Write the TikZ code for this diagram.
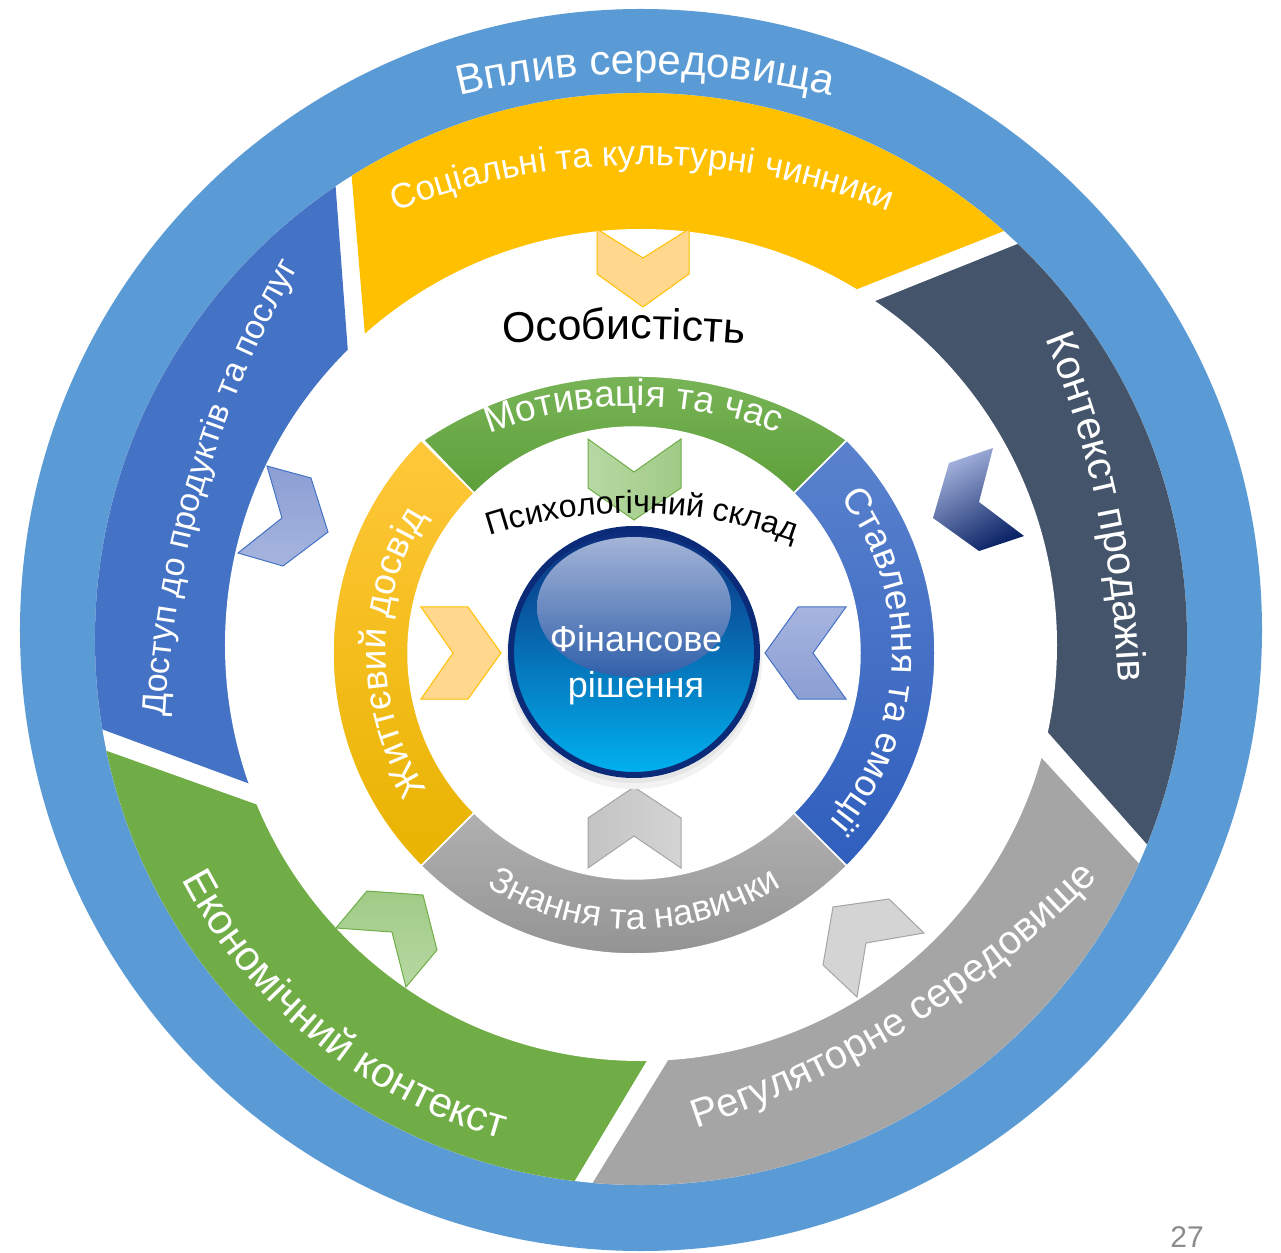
\documentclass[tikz,border=0pt]{standalone}
\usepackage{fontspec}
\setmainfont{Liberation Sans}
\usetikzlibrary{decorations.text}

\definecolor{ringblue}{HTML}{5B9BD5}
\definecolor{segyellow}{HTML}{FFC000}
\definecolor{segslate}{HTML}{44546A}
\definecolor{segblue}{HTML}{4472C4}
\definecolor{seggreen}{HTML}{70AD47}
\definecolor{seggrey}{HTML}{A5A5A5}
\definecolor{chevyellow}{HTML}{FFD88E}
\definecolor{chevgreenA}{HTML}{A0CB86}
\definecolor{chevgreenB}{HTML}{B7D8A3}
\definecolor{chevblueA}{HTML}{8C9FD4}
\definecolor{chevblueB}{HTML}{A6B4DE}
\definecolor{chevgreyA}{HTML}{C4C4C4}
\definecolor{chevgreyB}{HTML}{D4D4D4}
\definecolor{navydark}{HTML}{0B2466}
\definecolor{ringnavy}{HTML}{0B2A78}
\definecolor{coreTop}{HTML}{0D2B7A}
\definecolor{coreMid}{HTML}{0A5CAC}
\definecolor{coreBot}{HTML}{00B2F0}
\definecolor{glossTop}{HTML}{A4B4D7}
\definecolor{glossBot}{HTML}{3060AA}
\definecolor{pagegrey}{HTML}{8C8C8C}
\definecolor{igreenTop}{HTML}{7DB85C}
\definecolor{igreenBot}{HTML}{5E9F3A}
\definecolor{iyellowTop}{HTML}{FFC83A}
\definecolor{iyellowBot}{HTML}{E8B300}
\definecolor{iblueTop}{HTML}{5A82CD}
\definecolor{iblueBot}{HTML}{2F5EBD}
\definecolor{igreyTop}{HTML}{B0B0B0}
\definecolor{igreyBot}{HTML}{8E8E8E}

% #1 arc centre, #2 radius, #3 start angle, #4 end angle, #5 font size, #6 colour, #7 text
\newcommand{\CurvedText}[7]{%
  \path[decorate, decoration={text along path, text align=center, text color=#6,
      text={|\fontsize{#5}{#5}\selectfont|#7}}]
    ([shift={(#1)}]#3:#2) arc[start angle=#3, end angle=#4, radius=#2];}
\newcommand{\InnerSeg}[4]{%
  \shadedraw[top color=#3, bottom color=#4, draw=white, line width=1.5]
    ([shift={(-7,-13)}]#1:226) -- ([shift={(-7,-13)}]#1:301)
    arc[start angle=#1, end angle=#2, radius=301]
    -- ([shift={(-7,-13)}]#2:226)
    arc[start angle=#2, end angle=#1, radius=226] -- cycle;}

\begin{document}
\begin{tikzpicture}[x=1pt, y=1pt,
  chevline/.style={line width=1, line join=miter},
  centretext/.style={anchor=base, text=white, font=\fontsize{36}{36}\selectfont}]
\useasboundingbox (-641,-612) rectangle (640,640);
\fill[white] (-641,-612) rectangle (640,640);

% outer blue ring
\fill[ringblue] (0,10) circle[radius=621];
\fill[white] (0,1) circle[radius=546];

% outer segments
\begin{scope}
  \clip (0,1) circle[radius=546];
  \fill[segblue] (-329,770) -- (-287,207) -- (-323,-169) -- (-816,13) -- (-920,390) -- cycle;
  \fill[segyellow] (-315,770) -- (-269.5,227.5) -- (154.5,326.5) -- (641,519) -- (500,900) -- (0,1000) -- cycle;
  \fill[segslate] (673,515) -- (158.5,308.5) -- (350.5,-28.5) -- (725,-452) -- (1000,0) -- cycle;
  \fill[seggrey] (714,-458) -- (343,-55.5) -- (59,-368.5) -- (-193,-778) -- (300,-1000) -- cycle;
  \fill[seggreen] (-836,-3) -- (-307.5,-192) -- (36.5,-369.5) -- (-205,-772) -- (-700,-700) -- cycle;
\end{scope}
\fill[white] (0,-5) circle[radius=416];

% outer chevrons
\filldraw[fill=chevyellow, draw=segyellow, chevline] (-44,411) -- (2,382) -- (48,411) -- (48,366) -- (2,333) -- (-44,366) -- cycle;
\shadedraw[top color=chevblueA, bottom color=chevblueB, draw=segblue, chevline] (-374,174) -- (-330,162) -- (-313,108) -- (-358,74) -- (-403,87) -- (-359,122) -- cycle;
\shade[top color=chevblueB, middle color=chevblueB, bottom color=navydark, shading angle=30] (352,192) -- (308,177) -- (292,122) -- (338,89) -- (383,104) -- (338,138) -- cycle;
\shadedraw[top color=chevgreenA, bottom color=chevgreenB, draw=seggreen, chevline] (-305,-288) -- (-274,-251) -- (-218,-255) -- (-204,-310) -- (-235,-347) -- (-249,-292) -- cycle;
\filldraw[fill=chevgreyB, draw=seggrey, chevline] (192,-267) -- (248,-259) -- (283,-293) -- (225,-303) -- (216,-357) -- (182,-325) -- cycle;

% inner ring
\shadedraw[top color=igreenTop, bottom color=igreenBot, draw=white, line width=1.5]
  ([shift={(-7,-13)}]45:226) -- ([shift={(-7,-13)}]45:301)
  arc[start angle=56.24, end angle=123.76, radius=381]
  -- ([shift={(-7,-13)}]135:226) arc[start angle=135, end angle=45, radius=226] -- cycle;
\InnerSeg{135}{225}{iyellowTop}{iyellowBot}
\InnerSeg{225}{315}{igreyTop}{igreyBot}
\InnerSeg{-45}{45}{iblueTop}{iblueBot}

% inner chevrons
\shadedraw[left color=chevgreenB, right color=chevgreenA, draw=seggreen, chevline] (-53,201) -- (-7,168) -- (40,201) -- (40,152) -- (-7,120) -- (-53,152) -- cycle;
\filldraw[fill=chevyellow, draw=segyellow, chevline] (-220,33) -- (-173,33) -- (-140,-13) -- (-173,-59) -- (-220,-59) -- (-188,-13) -- cycle;
\shadedraw[top color=chevblueB, bottom color=chevblueA, draw=segblue, chevline] (205,33) -- (157,33) -- (124,-13) -- (157,-59) -- (205,-59) -- (172,-13) -- cycle;
\shadedraw[left color=chevgreyA, right color=chevgreyB, draw=seggrey, chevline] (-53,-178) -- (-7,-147) -- (40,-178) -- (40,-228) -- (-7,-196) -- (-53,-228) -- cycle;

% central circle with soft shadow
\fill[black!10] (-7,-18) circle[radius=127];
\fill[black!5] (-7,-21) circle[radius=128];
\fill[black!10] (-7,-17) circle[radius=126];
\shade[top color=coreTop, middle color=coreMid, bottom color=coreBot] (-7,-12) circle[radius=123];
\shade[top color=glossTop, bottom color=glossBot] (-7,33) ellipse[x radius=97, y radius=70];
\draw[ringnavy, line width=6] (-7,-12) circle[radius=123];

% curved labels
\CurvedText{4,-234}{800}{115}{65}{42}{white}{Вплив середовища}
\CurvedText{1,-205}{680}{120}{60}{35}{white}{Соціальні та культурні чинники}
\CurvedText{523,-128}{1000}{183.5}{143.5}{34}{white}{Доступ до продуктів та послуг}
\CurvedText{-522,-75}{1000}{32}{-8}{41}{white}{Контекст продажів}
\CurvedText{0,0}{518}{176}{286}{42}{white}{Економічний контекст}
\CurvedText{-259,461}{1000}{-78}{-38}{40}{white}{Регуляторне середовище}
\CurvedText{-7,-160}{394}{125}{55}{37}{white}{Мотивація та час}
\CurvedText{-7,-13}{258}{58}{-62}{37}{white}{Ставлення та емоції}
\CurvedText{-7,-13}{276}{210}{330}{36}{white}{Знання та навички}
\CurvedText{-7,-13}{248}{240}{120}{37}{white}{Життєвий досвід}
\CurvedText{-17,-1200}{1501}{100}{80}{43}{black}{Особистість}
\CurvedText{-7,-336}{463}{115}{63}{32}{black}{Психологічний склад}

% centre text
\node[centretext] (fin1) at (-5,-12) {Фінансове};
\node[centretext] (fin2) at (-5,-57) {рішення};

% page number
\node[anchor=base, text=pagegrey, font=\fontsize{30}{30}\selectfont] (pagenum) at (546,-607) {27};
\end{tikzpicture}
\end{document}
